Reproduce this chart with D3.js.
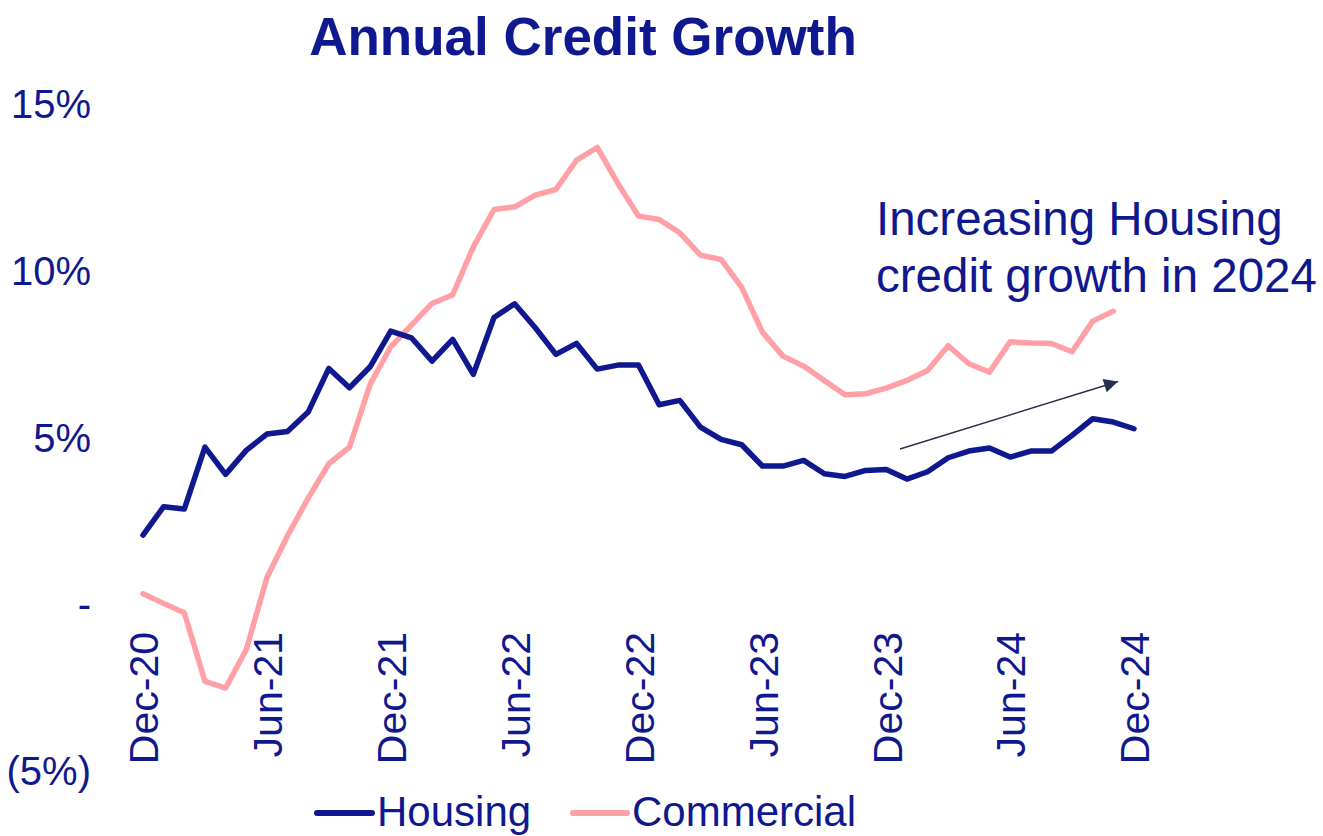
<!DOCTYPE html>
<html>
<head>
<meta charset="utf-8">
<script src="https://cdn.jsdelivr.net/npm/d3@7"></script>
<style>
  html, body { margin: 0; padding: 0; background: #ffffff; }
  svg { display: block; font-family: "Liberation Sans", Arial, sans-serif; }
</style>
</head>
<body>
<svg id="chart" width="1323" height="836"></svg>
<script>
// Monthly categories, Dec-20 through Dec-24
const months = [
  "Dec-20","Jan-21","Feb-21","Mar-21","Apr-21","May-21","Jun-21","Jul-21","Aug-21","Sep-21","Oct-21","Nov-21",
  "Dec-21","Jan-22","Feb-22","Mar-22","Apr-22","May-22","Jun-22","Jul-22","Aug-22","Sep-22","Oct-22","Nov-22",
  "Dec-22","Jan-23","Feb-23","Mar-23","Apr-23","May-23","Jun-23","Jul-23","Aug-23","Sep-23","Oct-23","Nov-23",
  "Dec-23","Jan-24","Feb-24","Mar-24","Apr-24","May-24","Jun-24","Jul-24","Aug-24","Sep-24","Oct-24","Nov-24",
  "Dec-24"
];

// Annual credit growth, % (housing runs to Dec-24, commercial to Nov-24)
const housing = [
  2.05, 2.90, 2.83, 4.69, 3.87, 4.59, 5.08, 5.16, 5.74, 7.05, 6.47, 7.10,
  8.17, 7.97, 7.27, 7.92, 6.87, 8.58, 8.99, 8.27, 7.47, 7.80, 7.03, 7.15,
  7.15, 5.96, 6.09, 5.29, 4.92, 4.76, 4.12, 4.12, 4.29, 3.89, 3.81, 3.99,
  4.02, 3.73, 3.95, 4.37, 4.57, 4.66, 4.39, 4.57, 4.57, 5.04, 5.54, 5.44,
  5.24
];
const commercial = [
  0.29, 0.00, -0.28, -2.34, -2.54, -1.39, 0.77, 2.03, 3.16, 4.19, 4.69, 6.57,
  7.70, 8.35, 9.00, 9.26, 10.70, 11.82, 11.90, 12.25, 12.42, 13.30, 13.68, 12.60,
  11.62, 11.52, 11.12, 10.45, 10.32, 9.48, 8.14, 7.42, 7.12, 6.69, 6.26, 6.29,
  6.46, 6.69, 6.99, 7.73, 7.19, 6.94, 7.85, 7.81, 7.80, 7.55, 8.47, 8.77
];

const xTickLabels = ["Dec-20","Jun-21","Dec-21","Jun-22","Dec-22","Jun-23","Dec-23","Jun-24","Dec-24"];
const yTicks = [-5, 0, 5, 10, 15];
const yTickLabels = ["(5%)", "-", "5%", "10%", "15%"];

const seriesNames = ["Housing", "Commercial"];
const titleText = "Annual Credit Growth";
const noteLines = ["Increasing Housing", "credit growth in 2024"];

const NAVY = "#10188f";
const PINK = "#ff9fa6";
const ARROW = "#27314f";

const svg = d3.select("#chart");

const x = d3.scalePoint().domain(months).range([143, 1134]);
const y = d3.scaleLinear().domain([-5, 15]).range([770, 103.5]);

// Title
svg.append("text")
  .attr("x", 583).attr("y", 55)
  .attr("text-anchor", "middle")
  .attr("font-size", 53).attr("font-weight", "bold")
  .attr("fill", NAVY)
  .text(titleText);

// Y axis (labels only)
const yAxis = d3.axisLeft(y)
  .tickValues(yTicks)
  .tickSize(0)
  .tickPadding(0)
  .tickFormat((d, i) => yTickLabels[i]);
const gy = svg.append("g").attr("transform", "translate(91,0)").call(yAxis);
gy.select(".domain").remove();
gy.selectAll("text")
  .attr("font-family", "Liberation Sans, Arial, sans-serif")
  .attr("font-size", 40)
  .attr("fill", NAVY)
  .attr("dy", "0.36em");

// X axis (rotated labels only)
const xAxis = d3.axisBottom(x)
  .tickValues(xTickLabels)
  .tickSize(0)
  .tickPadding(0);
const gx = svg.append("g").attr("transform", "translate(0,632)").call(xAxis);
gx.select(".domain").remove();
gx.selectAll("text")
  .attr("font-family", "Liberation Sans, Arial, sans-serif")
  .attr("font-size", 41)
  .attr("fill", NAVY)
  .attr("text-anchor", "end")
  .attr("x", 0).attr("y", 0)
  .attr("dy", "0.36em")
  .attr("transform", "rotate(-90)");

// Lines
const line = d3.line()
  .x((d, i) => x(months[i]))
  .y(d => y(d));

svg.append("path")
  .datum(commercial)
  .attr("fill", "none")
  .attr("stroke", PINK)
  .attr("stroke-width", 5.5)
  .attr("stroke-linejoin", "round")
  .attr("stroke-linecap", "round")
  .attr("d", line);

svg.append("path")
  .datum(housing)
  .attr("fill", "none")
  .attr("stroke", NAVY)
  .attr("stroke-width", 5.5)
  .attr("stroke-linejoin", "round")
  .attr("stroke-linecap", "round")
  .attr("d", line);

// Annotation text
const note = svg.append("text")
  .attr("font-size", 47.5)
  .attr("fill", NAVY);
noteLines.forEach((t, i) => {
  note.append("tspan").attr("x", 876).attr("y", 235 + i * 56.5).text(t);
});

// Trend arrow
svg.append("defs").append("marker")
  .attr("id", "arrowhead")
  .attr("viewBox", "0 0 10 10")
  .attr("refX", 10).attr("refY", 5)
  .attr("markerUnits", "userSpaceOnUse")
  .attr("markerWidth", 18).attr("markerHeight", 14)
  .attr("orient", "auto")
  .append("path")
  .attr("d", "M0,0 L10,5 L0,10 Z")
  .attr("fill", ARROW);

svg.append("line")
  .attr("x1", 900).attr("y1", 449)
  .attr("x2", 1118).attr("y2", 381.5)
  .attr("stroke", ARROW)
  .attr("stroke-width", 1.5)
  .attr("marker-end", "url(#arrowhead)");

// Legend
const legend = svg.append("g");
const legendItems = [
  { name: seriesNames[0], color: NAVY, x1: 317, x2: 372, tx: 377 },
  { name: seriesNames[1], color: PINK, x1: 573, x2: 627, tx: 632 }
];
legendItems.forEach(it => {
  legend.append("line")
    .attr("x1", it.x1).attr("x2", it.x2)
    .attr("y1", 813).attr("y2", 813)
    .attr("stroke", it.color)
    .attr("stroke-width", 6)
    .attr("stroke-linecap", "round");
  legend.append("text")
    .attr("x", it.tx).attr("y", 826)
    .attr("font-size", 42)
    .attr("fill", NAVY)
    .text(it.name);
});
</script>
</body>
</html>
